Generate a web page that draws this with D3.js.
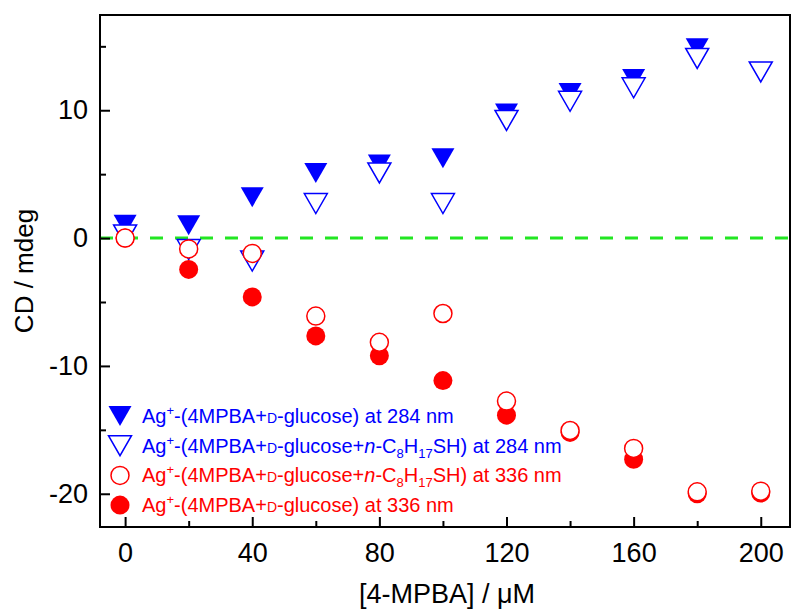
<!DOCTYPE html>
<html>
<head>
<meta charset="utf-8">
<script src="https://cdn.jsdelivr.net/npm/d3@7"></script>
<style>
  body { margin: 0; background: #fff; }
  svg { font-family: "Liberation Sans", Arial, sans-serif; }
</style>
</head>
<body>
<svg id="chart" width="792" height="610"></svg>
<script>
// concentration of 4-MPBA (uM)
const conc = [0, 20, 40, 60, 80, 100, 120, 140, 160, 180, 200];
// CD values (mdeg), null where no point is drawn
const blue284 = [1.05, 1.0, 3.2, 5.1, 5.75, 6.25, 9.75, 11.35, 12.45, 14.85, null];
const blue284Thiol = [0.25, -0.9, -1.8, 2.7, 5.1, 2.7, 9.2, 10.7, 11.75, 14.05, 13.0];
const red336Thiol = [0, -0.85, -1.2, -6.1, -8.15, -5.9, -12.75, -15.05, -16.45, -19.85, -19.8];
const red336 = [0, -2.45, -4.6, -7.65, -9.2, -11.15, -13.85, -15.2, -17.3, -20.0, -19.95];

const xMajor = [0, 40, 80, 120, 160, 200];
const xMinor = [20, 60, 100, 140, 180];
const yMajor = [-20, -10, 0, 10];
const yMinor = [-15, -5, 5, 15];

const svg = d3.select('#chart');
const pLeft = 100, pRight = 790, pTop = 15, pBottom = 527;

const x = d3.scaleLinear().domain([-7.9, 209.2]).range([pLeft, pRight]);
const y = d3.scaleLinear().domain([-22.6, 17.45]).range([pBottom, pTop]);

const blue = '#0000ff';
const red = '#ff0000';

// zero line
svg.append('line')
  .attr('x1', pLeft).attr('x2', pRight)
  .attr('y1', y(0)).attr('y2', y(0))
  .attr('stroke', '#22e622')
  .attr('stroke-width', 3)
  .attr('stroke-dasharray', '13,12');

// markers
const triW = 23, triH = 20, rad = 9.5;
const triPath = `M${-triW / 2},${-triH / 2}L${triW / 2},${-triH / 2}L0,${triH / 2}Z`;

function points(values) {
  return conc.map((c, i) => ({ c, v: values[i] })).filter(d => d.v !== null);
}

const g = svg.append('g');

g.selectAll('.bf').data(points(blue284)).enter()
  .append('path')
  .attr('d', triPath)
  .attr('transform', d => `translate(${x(d.c)},${y(d.v)})`)
  .attr('fill', blue);

g.selectAll('.bo').data(points(blue284Thiol)).enter()
  .append('path')
  .attr('d', triPath)
  .attr('transform', d => `translate(${x(d.c)},${y(d.v)})`)
  .attr('fill', '#fff')
  .attr('stroke', blue)
  .attr('stroke-width', 1.5);

g.selectAll('.rf').data(points(red336)).enter()
  .append('circle')
  .attr('cx', d => x(d.c)).attr('cy', d => y(d.v))
  .attr('r', rad)
  .attr('fill', red);

g.selectAll('.ro').data(points(red336Thiol)).enter()
  .append('circle')
  .attr('cx', d => x(d.c)).attr('cy', d => y(d.v))
  .attr('r', rad - 0.5)
  .attr('fill', '#fff')
  .attr('stroke', red)
  .attr('stroke-width', 1.5);

// axes (ticks point inward)
svg.append('g')
  .attr('transform', `translate(0,${pBottom})`)
  .call(d3.axisBottom(x).tickValues(xMajor).tickSize(-10).tickPadding(16).tickFormat(d3.format('d')));
svg.append('g')
  .attr('transform', `translate(0,${pBottom})`)
  .call(d3.axisBottom(x).tickValues(xMinor).tickSize(-6).tickFormat(''));

svg.append('g')
  .attr('transform', `translate(${pLeft},0)`)
  .call(d3.axisLeft(y).tickValues(yMajor).tickSize(-10).tickPadding(12).tickFormat(d => d < 0 ? '-' + Math.abs(d) : d));
svg.append('g')
  .attr('transform', `translate(${pLeft},0)`)
  .call(d3.axisLeft(y).tickValues(yMinor).tickSize(-6).tickFormat(''));

svg.selectAll('.domain').remove();
svg.selectAll('.tick line').attr('stroke', '#000').attr('stroke-width', 2);
svg.selectAll('.tick text')
  .attr('fill', '#000')
  .style('font-size', '27px')
  .style('font-family', '"Liberation Sans", Arial, sans-serif');

// frame
svg.append('rect')
  .attr('x', pLeft).attr('y', pTop)
  .attr('width', pRight - pLeft).attr('height', pBottom - pTop)
  .attr('fill', 'none')
  .attr('stroke', '#000')
  .attr('stroke-width', 2);

// axis titles
svg.append('text')
  .attr('transform', `translate(33,${(pTop + pBottom) / 2}) rotate(-90)`)
  .attr('text-anchor', 'middle')
  .style('font-size', '26px')
  .text('CD / mdeg');

svg.append('text')
  .attr('x', (pLeft + pRight) / 2 + 2).attr('y', 603)
  .attr('text-anchor', 'middle')
  .style('font-size', '27px')
  .text('[4-MPBA] / \u03bcM');

// legend
const legendRows = [
  { sym: 'triFill', color: blue, thiol: false, nm: '284' },
  { sym: 'triOpen', color: blue, thiol: true, nm: '284' },
  { sym: 'cirOpen', color: red, thiol: true, nm: '336' },
  { sym: 'cirFill', color: red, thiol: false, nm: '336' }
];

const leg = svg.append('g');
legendRows.forEach((r, i) => {
  const cy = 416 + i * 29.7;
  const sx = 120;
  if (r.sym === 'triFill') {
    leg.append('path').attr('d', triPath).attr('transform', `translate(${sx},${cy})`).attr('fill', r.color);
  } else if (r.sym === 'triOpen') {
    leg.append('path').attr('d', triPath).attr('transform', `translate(${sx},${cy})`)
      .attr('fill', '#fff').attr('stroke', r.color).attr('stroke-width', 1.5);
  } else if (r.sym === 'cirOpen') {
    leg.append('circle').attr('cx', sx).attr('cy', cy).attr('r', rad - 0.5)
      .attr('fill', '#fff').attr('stroke', r.color).attr('stroke-width', 1.5);
  } else {
    leg.append('circle').attr('cx', sx).attr('cy', cy).attr('r', rad).attr('fill', r.color);
  }

  const t = leg.append('text')
    .attr('x', 142).attr('y', cy + 7)
    .attr('fill', r.color)
    .style('font-size', '20px');
  t.append('tspan').text('Ag');
  t.append('tspan').attr('dy', -8).style('font-size', '13px').text('+');
  t.append('tspan').attr('dy', 8).text('-(4MPBA+');
  t.append('tspan').style('font-size', '14px').text('D');
  t.append('tspan').text('-glucose');
  if (r.thiol) {
    t.append('tspan').text('+');
    t.append('tspan').style('font-style', 'italic').text('n');
    t.append('tspan').text('-C');
    t.append('tspan').attr('dy', 5).style('font-size', '13px').text('8');
    t.append('tspan').attr('dy', -5).text('H');
    t.append('tspan').attr('dy', 5).style('font-size', '13px').text('17');
    t.append('tspan').attr('dy', -5).text('SH');
  }
  t.append('tspan').text(`) at ${r.nm} nm`);
});
</script>
</body>
</html>
